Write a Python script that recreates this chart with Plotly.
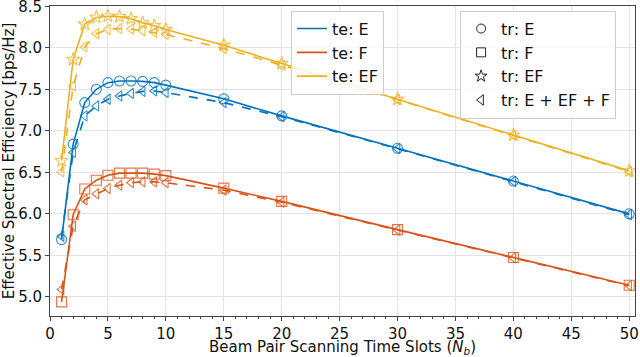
import plotly.graph_objects as go

# beam pair scanning time slots
n_b = [1, 2, 3, 4, 5, 6, 7, 8, 9, 10, 15, 20, 30, 40, 50]

# test on E
e_tr_e = [5.69, 6.84, 7.34, 7.50, 7.58, 7.60, 7.60, 7.595, 7.58, 7.55, 7.385, 7.18, 6.79, 6.395, 6.00]
e_tr_all = [5.73, 6.74, 7.18, 7.30, 7.38, 7.42, 7.45, 7.475, 7.48, 7.46, 7.34, 7.17, 6.785, 6.39, 5.99]

# test on F
f_tr_f = [4.94, 5.99, 6.30, 6.405, 6.465, 6.49, 6.49, 6.49, 6.478, 6.46, 6.31, 6.15, 5.81, 5.475, 5.14]
f_tr_all = [5.09, 5.85, 6.17, 6.24, 6.305, 6.345, 6.375, 6.385, 6.385, 6.375, 6.285, 6.14, 5.805, 5.47, 5.135]

# test on EF
ef_tr_ef = [6.64, 7.86, 8.285, 8.365, 8.38, 8.375, 8.35, 8.30, 8.265, 8.22, 8.03, 7.81, 7.38, 6.948, 6.518]
ef_tr_all = [6.505, 7.54, 8.01, 8.17, 8.22, 8.23, 8.225, 8.205, 8.185, 8.16, 7.99, 7.79, 7.375, 6.945, 6.51]

BLUE = "#0072BD"
ORANGE = "#D95319"
YELLOW = "#EDB120"
FONT = "DejaVu Sans"

fig = go.Figure()

def add_curve(y, color, symbol, size, dash):
    fig.add_trace(go.Scatter(
        x=n_b, y=y, mode="lines+markers", showlegend=False,
        line=dict(color=color, width=1.6, dash=dash),
        marker=dict(symbol=symbol, size=size, color=color,
                    line=dict(color=color, width=1.1), opacity=0.8),
    ))

add_curve(e_tr_all, BLUE, "triangle-left-open", 9, "dash")
add_curve(e_tr_e, BLUE, "circle-open", 10, "solid")
add_curve(f_tr_all, ORANGE, "triangle-left-open", 9, "dash")
add_curve(f_tr_f, ORANGE, "square-open", 10, "solid")
add_curve(ef_tr_all, YELLOW, "triangle-left-open", 9, "dash")
add_curve(ef_tr_ef, YELLOW, "star-open", 10, "solid")

# legend entries for the test set (colour)
for name, color in [("te: E", BLUE), ("te: F", ORANGE), ("te: EF", YELLOW)]:
    fig.add_trace(go.Scatter(x=[None], y=[None], mode="lines", name=name,
                             line=dict(color=color, width=1.6), legend="legend"))

# legend entries for the training set (marker)
for name, symbol in [("tr: E", "circle-open"), ("tr: F", "square-open"),
                     ("tr: EF", "star-open"), ("tr: E + EF + F", "triangle-left-open")]:
    fig.add_trace(go.Scatter(x=[None], y=[None], mode="markers", name=name,
                             marker=dict(symbol=symbol, size=9, color="#222",
                                         line=dict(color="#222", width=1)),
                             legend="legend2"))

legend_style = dict(bgcolor="rgba(255,255,255,0.85)", bordercolor="#cccccc", borderwidth=1,
                    font=dict(family=FONT, size=16, color="#111"), xanchor="left", yanchor="top",
                    tracegroupgap=0)

fig.update_layout(
    width=640, height=357,
    margin=dict(l=50, r=5, t=6, b=41),
    plot_bgcolor="white", paper_bgcolor="white",
    font=dict(family=FONT, size=15, color="#111"),
    legend=dict(x=0.412, y=0.985, **legend_style),
    legend2=dict(x=0.701, y=0.985, **legend_style),
)
fig.update_xaxes(
    range=[0, 50.5], dtick=5, tick0=0, automargin=False, ticklabeloverflow="allow",
    title=dict(text="Beam Pair Scanning Time Slots (<i>N<sub>b</sub></i>)", standoff=0,
               font=dict(family=FONT, size=15)),
    showgrid=True, gridcolor="#e3e3e3", gridwidth=1,
    showline=True, linecolor="#444", linewidth=1, mirror=True,
    ticks="outside", ticklen=4, tickcolor="#444",
    minor=dict(ticks="outside", dtick=1, ticklen=2, tickcolor="#444", showgrid=False),
    zeroline=False, tickfont=dict(family=FONT, size=15),
)
fig.update_yaxes(
    range=[4.77, 8.503], dtick=0.5, tick0=5.0, tickformat=".1f", automargin=False,
    ticklabeloverflow="allow",
    title=dict(text="Effective Spectral Efficiency [bps/Hz]", standoff=6,
               font=dict(family=FONT, size=15)),
    showgrid=True, gridcolor="#e3e3e3", gridwidth=1,
    showline=True, linecolor="#444", linewidth=1, mirror=True,
    ticks="outside", ticklen=4, tickcolor="#444",
    zeroline=False, tickfont=dict(family=FONT, size=15),
)

# drop the page's default body margin so the figure sits at the window corner
fig.write_html("out.html", config={"displayModeBar": False},
               post_script="document.body.style.margin = '0';")
